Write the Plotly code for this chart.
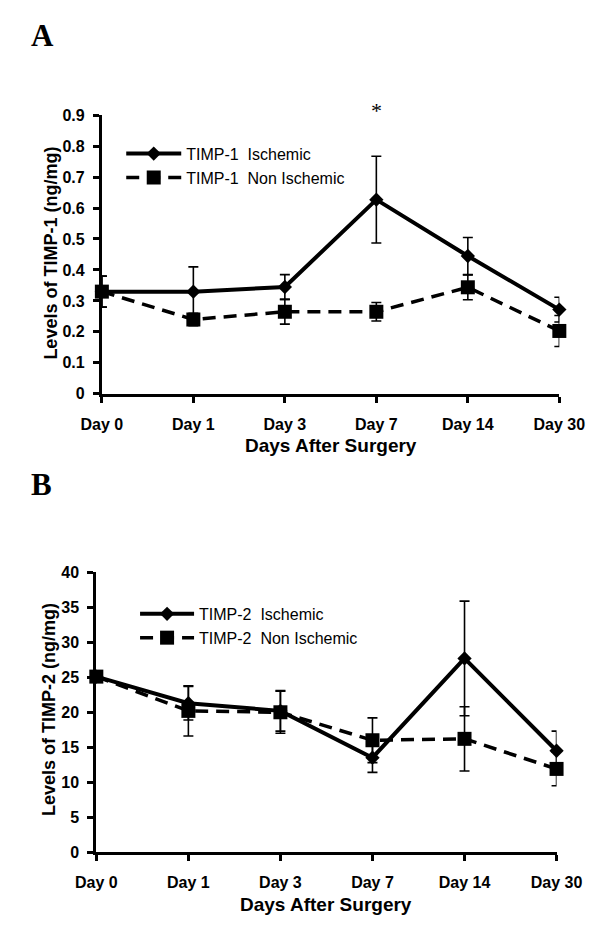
import plotly.graph_objects as go

days = ["Day 0", "Day 1", "Day 3", "Day 7", "Day 14", "Day 30"]
xpos = [0, 1, 2, 3, 4, 5]

timp1_isch = [0.33, 0.33, 0.345, 0.627, 0.445, 0.272]
timp1_isch_err = [0.05, 0.08, 0.04, 0.14, 0.06, 0.04]
timp1_non = [0.33, 0.24, 0.265, 0.265, 0.344, 0.203]
timp1_non_err = [0.05, 0.02, 0.04, 0.03, 0.04, 0.05]

timp2_isch = [25.1, 21.3, 20.2, 13.5, 27.7, 14.5]
timp2_isch_err = [0.5, 2.4, 2.9, 2.1, 8.2, 2.8]
timp2_non = [25.1, 20.2, 20.0, 16.0, 16.2, 11.9]
timp2_non_err = [0.5, 3.6, 3.0, 3.2, 4.6, 2.4]

W, H = 605, 912  # page body has 8px margin
FONT = "Liberation Sans"

def px(x):
    return x / W

def py(y):
    return 1 - y / H

fig = go.Figure()

def add_pair(iy, ie, ny, ne, xa, ya, leg, n1, n2):
    fig.add_trace(go.Scatter(
        x=xpos, y=iy, name=n1, mode="lines+markers", xaxis=xa, yaxis=ya, legend=leg,
        legendgroup=n1,
        line=dict(color="black", width=4),
        marker=dict(symbol="diamond", size=11, color="black"),
        error_y=dict(type="data", array=ie, visible=True, color="black", thickness=1.6, width=5),
        cliponaxis=False))
    fig.add_trace(go.Scatter(
        x=xpos, y=ny, name=n2, mode="lines+markers", xaxis=xa, yaxis=ya, legend=leg,
        legendgroup=n2,
        line=dict(color="black", width=3.5, dash="13px,8px"),
        marker=dict(symbol="square", size=14, color="black"),
        error_y=dict(type="data", array=ne, visible=True, color="black", thickness=1.6, width=5),
        cliponaxis=False))

add_pair(timp1_isch, timp1_isch_err, timp1_non, timp1_non_err, "x", "y", "legend",
         "TIMP-1  Ischemic", "TIMP-1  Non Ischemic")
add_pair(timp2_isch, timp2_isch_err, timp2_non, timp2_non_err, "x2", "y2", "legend2",
         "TIMP-2  Ischemic", "TIMP-2  Non Ischemic")

tickfont = dict(family=FONT, size=16, color="black", weight="bold")
xcommon = dict(range=[0, 5], tickvals=xpos, ticktext=days, showline=True, linecolor="black",
               linewidth=3, ticks="outside", ticklen=6, tickwidth=2.5, tickcolor="black",
               showgrid=False, zeroline=False, ticklabeloverflow="allow",
               ticklabelstandoff=8, tickfont=tickfont)
ycommon = dict(showline=True, linecolor="black", linewidth=3, ticks="outside", ticklen=6,
               tickwidth=2.5, tickcolor="black", showgrid=False, zeroline=False,
               ticklabelstandoff=5, tickfont=tickfont)

ytitle_font = dict(family=FONT, size=18, color="black", weight="bold")
xtitle_font = dict(family=FONT, size=19, color="black", weight="bold")
legend_font = dict(family=FONT, size=16, color="black")

# pixel layout (figure coordinates)
A_x0, A_x1, A_ytop, A_ybot = 79, 575, 101, 385
B_x0, B_x1, B_ytop, B_ybot = 73, 572, 567, 852

fig.update_layout(
    width=W, height=H, paper_bgcolor="white", plot_bgcolor="white",
    margin=dict(l=0, r=0, t=0, b=0), showlegend=True,
    xaxis=dict(domain=[px(A_x0), px(A_x1)], anchor="y", **xcommon),
    yaxis=dict(domain=[py(A_ybot), py(A_ytop)], anchor="x", range=[0, 0.9], dtick=0.1, **ycommon),
    xaxis2=dict(domain=[px(B_x0), px(B_x1)], anchor="y2", **xcommon),
    yaxis2=dict(domain=[py(B_ybot), py(B_ytop)], anchor="x2", range=[0, 40], dtick=5, **ycommon),
    legend=dict(x=px(100), y=py(123), xanchor="left", yanchor="top", itemwidth=55,
                font=legend_font, bgcolor="rgba(0,0,0,0)", tracegroupgap=0),
    legend2=dict(x=px(115), y=py(592), xanchor="left", yanchor="top", itemwidth=54,
                 font=legend_font, bgcolor="rgba(0,0,0,0)", tracegroupgap=0),
    annotations=[
        dict(text="<b>A</b>", x=px(0), y=py(0), xref="paper", yref="paper", xanchor="left", yanchor="top",
             showarrow=False, font=dict(family="Liberation Serif", size=31, color="black")),
        dict(text="<b>B</b>", x=px(0), y=py(458), xref="paper", yref="paper", xanchor="left", yanchor="top",
             showarrow=False, font=dict(family="Liberation Serif", size=31, color="black")),
        dict(text="*", x=3, y=py(96), xref="x", yref="paper", xanchor="center", yanchor="middle",
             showarrow=False, font=dict(family="Liberation Serif", size=22, color="black")),
        dict(text="Levels of TIMP-1 (ng/mg)", textangle=-90, x=px(24), y=py(242),
             xref="paper", yref="paper", xanchor="center", yanchor="middle", showarrow=False, font=ytitle_font),
        dict(text="Levels of TIMP-2 (ng/mg)", textangle=-90, x=px(22), y=py(707),
             xref="paper", yref="paper", xanchor="center", yanchor="middle", showarrow=False, font=ytitle_font),
        dict(text="Days After Surgery", x=px(327), y=py(438), xref="paper", yref="paper",
             xanchor="center", yanchor="middle", showarrow=False, font=xtitle_font),
        dict(text="Days After Surgery", x=px(322), y=py(905), xref="paper", yref="paper",
             xanchor="center", yanchor="middle", showarrow=False, font=xtitle_font),
    ],
)

fig.write_html("out.html")
